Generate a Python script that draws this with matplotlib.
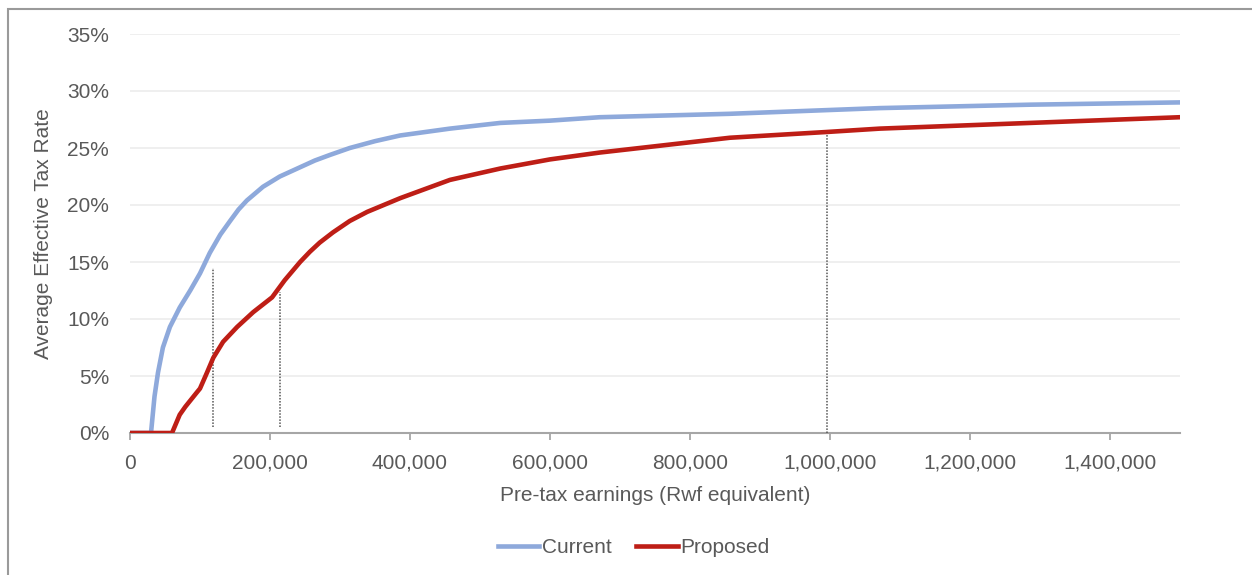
import matplotlib.pyplot as plt
from matplotlib.patches import Rectangle
from matplotlib.ticker import FuncFormatter, MultipleLocator

# Data
current_x = [0, 30000, 35000, 40000, 47000, 57000, 71000, 86000, 100000, 114000,
             129000, 143000, 155000, 167000, 190000, 214000, 239000, 264000, 286000,
             314000, 350000, 386000, 457000, 529000, 600000, 671000, 857000, 1071000,
             1286000, 1500000]
current_y = [0.0, 0.0, 3.2, 5.3, 7.5, 9.3, 11.0, 12.5, 14.0, 15.8,
             17.4, 18.6, 19.6, 20.4, 21.6, 22.5, 23.2, 23.9, 24.4,
             25.0, 25.6, 26.1, 26.7, 27.2, 27.4, 27.7, 28.0, 28.5,
             28.8, 29.0]

proposed_x = [0, 60000, 71000, 79000, 96000, 100000, 110000, 119000, 133000, 153000,
              176000, 203000, 221000, 243000, 257000, 271000, 290000, 314000, 339000,
              386000, 457000, 529000, 600000, 671000, 857000, 994000, 1071000,
              1286000, 1500000]
proposed_y = [0.0, 0.0, 1.6, 2.3, 3.6, 3.9, 5.3, 6.6, 8.0, 9.3,
              10.6, 11.9, 13.4, 15.0, 15.9, 16.7, 17.6, 18.6, 19.4,
              20.6, 22.2, 23.2, 24.0, 24.6, 25.9, 26.4, 26.7,
              27.2, 27.7]

# Dotted reference lines
marker_x = [118000, 214000, 996000]
marker_bottom = [0.5, 0.5, 0.0]
marker_top = [14.5, 12.4, 26.5]

x_ticks = [0, 200000, 400000, 600000, 800000, 1000000, 1200000, 1400000]

text_color = "#595959"
plt.rcParams["font.family"] = ["Liberation Sans", "DejaVu Sans"]

fig = plt.figure(figsize=(12.52, 5.75), dpi=100)
ax = fig.add_axes([130 / 1252, 1 - 433 / 575, 1050 / 1252, 399 / 575])

# Outer frame of the picture
fig.add_artist(Rectangle((8 / 1252, -0.1), 1.2, 0.1 + (1 - 9 / 575),
                         transform=fig.transFigure, fill=False,
                         edgecolor="#9a9a9a", linewidth=1.5))

for xm, yb, yt in zip(marker_x, marker_bottom, marker_top):
    ax.plot([xm, xm], [yb / 100, yt / 100], color="#555555", linestyle=(0, (1, 1)),
            linewidth=1.1, zorder=2)

ax.plot(current_x, [v / 100 for v in current_y], color="#8EA9DB", linewidth=3.3,
        label="Current", zorder=3, solid_joinstyle="round")
ax.plot(proposed_x, [v / 100 for v in proposed_y], color="#BE1E16", linewidth=3.3,
        label="Proposed", zorder=4, solid_joinstyle="round")

ax.set_xlim(0, 1500000)
ax.set_ylim(0, 0.35)
ax.set_xticks(x_ticks)
ax.xaxis.set_major_formatter(FuncFormatter(lambda v, p: f"{int(v):,}"))
ax.yaxis.set_major_locator(MultipleLocator(0.05))
ax.yaxis.set_major_formatter(FuncFormatter(lambda v, p: f"{v * 100:.0f}%"))

ax.grid(axis="y", color="#ececec", linewidth=1.2)
ax.set_axisbelow(True)
for s in ["top", "right", "left"]:
    ax.spines[s].set_visible(False)
ax.spines["bottom"].set_color("#a6a6a6")
ax.spines["bottom"].set_linewidth(1.5)
ax.spines["bottom"].set_zorder(1)

ax.tick_params(axis="x", colors="#a6a6a6", length=5, width=1.3, pad=10,
               labelsize=15, labelcolor=text_color)
ax.tick_params(axis="y", length=0, pad=15, labelsize=15, labelcolor=text_color)

ax.set_xlabel("Pre-tax earnings (Rwf equivalent)", fontsize=15, color=text_color)
ax.xaxis.set_label_coords(0.5, -0.132)
ax.set_ylabel("Average Effective Tax Rate", fontsize=15, color=text_color)
ax.yaxis.set_label_coords(-0.073, 0.5)

fig.legend(loc="center", bbox_to_anchor=(0.506, 0.047), ncol=2, frameon=False,
           fontsize=15, handlelength=2.0, handletextpad=0.1, columnspacing=1.2,
           labelcolor=text_color)

fig.savefig("out.png", dpi=100)
